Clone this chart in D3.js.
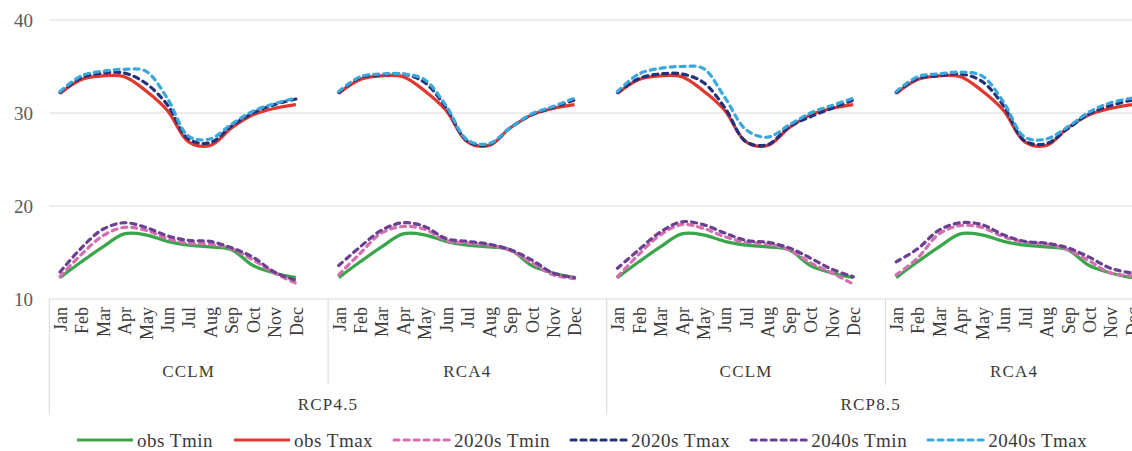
<!DOCTYPE html>
<html>
<head>
  <meta charset="utf-8">
  <title></title>
  <style>
    body,html{
      margin:0;
      padding:0;
      background:#fff;
    }
    svg text{ font-family: "Liberation Serif", "DejaVu Serif", serif; }
    .grid line{ stroke:#d9d9d9; stroke-width:1; }
    .tick-label{ fill:#595959; font-size:19px; }
    .month{ fill:#3a3a3a; font-size:18px; }
    .group{ fill:#3a3a3a; font-size:17px; letter-spacing:1.2px; }
    .legend text{ fill:#3a3a3a; font-size:19px; letter-spacing:0.5px; }
  </style>
</head>
<body>
  <div id="container"></div>
  <script src="https://cdn.jsdelivr.net/npm/d3@7"></script>
  <script>

    var months = ['Jan','Feb','Mar','Apr','May','Jun','Jul','Aug','Sep','Oct','Nov','Dec'];
    var models = ['CCLM','RCA4'];
    var scenarios = ['RCP4.5','RCP8.5'];
    var yTicks = [10,20,30,40];

    var obsTmin = [12.3, 14.0, 15.6, 17.0, 16.9, 16.2, 15.8, 15.6, 15.3, 13.6, 12.8, 12.3];
    var obsTmax = [32.1, 33.6, 34.0, 33.9, 32.4, 30.3, 26.9, 26.5, 28.4, 29.8, 30.5, 30.9];

    // one row per panel: CCLM/RCP4.5, RCA4/RCP4.5, CCLM/RCP8.5, RCA4/RCP8.5
    var tmin2020 = [
      [12.4, 14.8, 16.8, 17.7, 17.4, 16.5, 16.0, 15.9, 15.4, 14.2, 12.8, 11.7],
      [12.6, 14.9, 17.1, 17.8, 17.5, 16.3, 16.0, 15.8, 15.2, 13.9, 12.6, 12.2],
      [12.4, 14.8, 16.9, 18.0, 17.6, 16.7, 16.1, 15.9, 15.3, 13.9, 12.8, 11.6],
      [12.6, 14.4, 17.0, 17.9, 17.7, 16.7, 16.1, 15.9, 15.3, 14.1, 12.8, 12.5]
    ];
    var tmax2020 = [
      [32.2, 33.8, 34.3, 34.3, 33.2, 30.9, 27.2, 26.8, 28.6, 30.0, 30.9, 31.5],
      [32.2, 33.8, 34.1, 34.2, 33.3, 30.6, 27.0, 26.6, 28.4, 29.8, 30.6, 31.4],
      [32.2, 33.7, 34.2, 34.2, 33.3, 30.6, 26.9, 26.6, 28.5, 29.6, 30.5, 31.4],
      [32.2, 33.7, 34.0, 34.2, 33.4, 30.8, 27.0, 26.7, 28.3, 29.9, 30.8, 31.4]
    ];
    var tmin2040 = [
      [12.9, 15.5, 17.5, 18.2, 17.7, 16.8, 16.3, 16.2, 15.5, 14.5, 12.9, 12.0],
      [13.6, 15.6, 17.4, 18.2, 17.8, 16.5, 16.2, 15.9, 15.3, 14.2, 12.8, 12.3],
      [13.3, 15.3, 17.2, 18.3, 18.0, 17.1, 16.3, 16.1, 15.5, 14.4, 13.2, 12.4],
      [14.0, 15.4, 17.4, 18.2, 18.0, 16.9, 16.2, 16.0, 15.5, 14.5, 13.3, 12.8]
    ];
    var tmax2040 = [
      [32.3, 34.0, 34.5, 34.7, 34.5, 31.6, 27.5, 27.2, 28.8, 30.2, 31.0, 31.6],
      [32.3, 33.9, 34.2, 34.2, 33.6, 30.8, 27.1, 26.7, 28.4, 29.9, 30.7, 31.6],
      [32.3, 34.2, 34.8, 35.0, 34.8, 31.7, 28.2, 27.4, 28.7, 30.0, 30.8, 31.6],
      [32.3, 33.9, 34.2, 34.4, 34.0, 31.2, 27.4, 27.2, 28.5, 30.1, 31.1, 31.6]
    ];

    var seriesNames = ['obs Tmin','obs Tmax','2020s Tmin','2020s Tmax','2040s Tmin','2040s Tmax'];
    var seriesColors = ['#3aa54a','#e0382f','#d46fb0','#25307a','#6b3f92','#3ba8dc'];

    var width = 1132, height = 451;
    var left = 49.3, band = 21.44;

    // panels in order, each with 12 months and a spacer slot (not after the last)
    var panels = [];
    scenarios.forEach(function(s){
      models.forEach(function(m){ panels.push({scenario:s, model:m}); });
    });

    var slots = [];
    panels.forEach(function(p, i){
      months.forEach(function(mo){ slots.push(i+'|'+mo); });
      if(i < panels.length-1) slots.push(i+'|gap');
    });

    var x = d3.scaleBand().domain(slots).range([left, left + slots.length*band]);
    var y = d3.scaleLinear().domain([10,40]).range([299,20]);

    var svg = d3.select('#container').append('svg')
      .attr('width', width).attr('height', height)
      .style('background-color', '#fff');

    // gridlines
    svg.append('g').attr('class','grid').selectAll('line').data(yTicks).enter().append('line')
      .attr('x1', left).attr('x2', width)
      .attr('y1', function(d){ return y(d); })
      .attr('y2', function(d){ return y(d); });

    svg.append('g').selectAll('text').data(yTicks).enter().append('text')
      .attr('class','tick-label')
      .attr('x', 33)
      .attr('y', function(d){ return y(d); })
      .attr('dy','0.35em')
      .attr('text-anchor','end')
      .text(function(d){ return d; });

    // category axis
    var axis = svg.append('g');
    panels.forEach(function(p, i){
      months.forEach(function(mo){
        var cx = x(i+'|'+mo) + x.bandwidth()/2;
        axis.append('text').attr('class','month')
          .attr('transform','translate('+(cx+0.5)+',307) rotate(-90)')
          .attr('text-anchor','end')
          .attr('dy','0.35em')
          .text(mo);
      });
      var x0 = x(i+'|Jan');
      var x1 = (i < panels.length-1) ? x((i+1)+'|Jan') : x.range()[1];
      axis.append('text').attr('class','group')
        .attr('x', (x0+x1)/2).attr('y', 377)
        .attr('text-anchor','middle')
        .text(p.model);
      // separator: long one at scenario start, short one between models
      var isScenarioStart = (i % models.length === 0);
      axis.append('line')
        .attr('x1', x0).attr('x2', x0)
        .attr('y1', 299).attr('y2', isScenarioStart ? 415 : 385)
        .attr('stroke','#d9d9d9');
    });

    scenarios.forEach(function(s, k){
      var first = k*models.length, last = first + models.length - 1;
      var x0 = x(first+'|Jan');
      var x1 = (last < panels.length-1) ? x((last+1)+'|Jan') : x.range()[1];
      axis.append('text').attr('class','group')
        .attr('x', (x0+x1)/2 - (k === scenarios.length-1 ? 4 : 0)).attr('y', 410)
        .attr('text-anchor','middle')
        .text(s);
    });

    // lines
    var line = d3.line()
      .x(function(d){ return x(d.key) + x.bandwidth()/2; })
      .y(function(d){ return y(d.v); })
      .curve(d3.curveCatmullRom.alpha(0.5));

    function seriesFor(idx){
      var src = [obsTmin, obsTmax, tmin2020, tmax2020, tmin2040, tmax2040][idx];
      return panels.map(function(p, i){
        var vals = (idx < 2) ? src : src[i];
        return months.map(function(mo, j){ return {key:i+'|'+mo, v:vals[j]}; });
      });
    }

    var plot = svg.append('g');
    seriesNames.forEach(function(name, idx){
      plot.append('g').selectAll('path').data(seriesFor(idx)).enter().append('path')
        .attr('fill','none')
        .attr('stroke', seriesColors[idx])
        .attr('stroke-width', 3.2)
        .attr('stroke-linecap', idx < 2 ? 'butt' : 'round')
        .attr('stroke-dasharray', idx < 2 ? null : '5,5')
        .attr('d', line);
    });

    // legend
    var legend = svg.append('g').attr('class','legend');
    var lx = 77;
    seriesNames.forEach(function(name, idx){
      var g = legend.append('g').attr('transform','translate('+lx+',440)');
      g.append('line')
        .attr('x1', 0).attr('x2', 56).attr('y1', 0).attr('y2', 0)
        .attr('stroke', seriesColors[idx])
        .attr('stroke-width', 3.2)
        .attr('stroke-linecap', idx < 2 ? 'butt' : 'round')
        .attr('stroke-dasharray', idx < 2 ? null : '5,5');
      var t = g.append('text').attr('x', 60).attr('dy','0.35em').text(name);
      lx += 60 + t.node().getComputedTextLength() + 21;
    });

  </script>
</body>
</html>
